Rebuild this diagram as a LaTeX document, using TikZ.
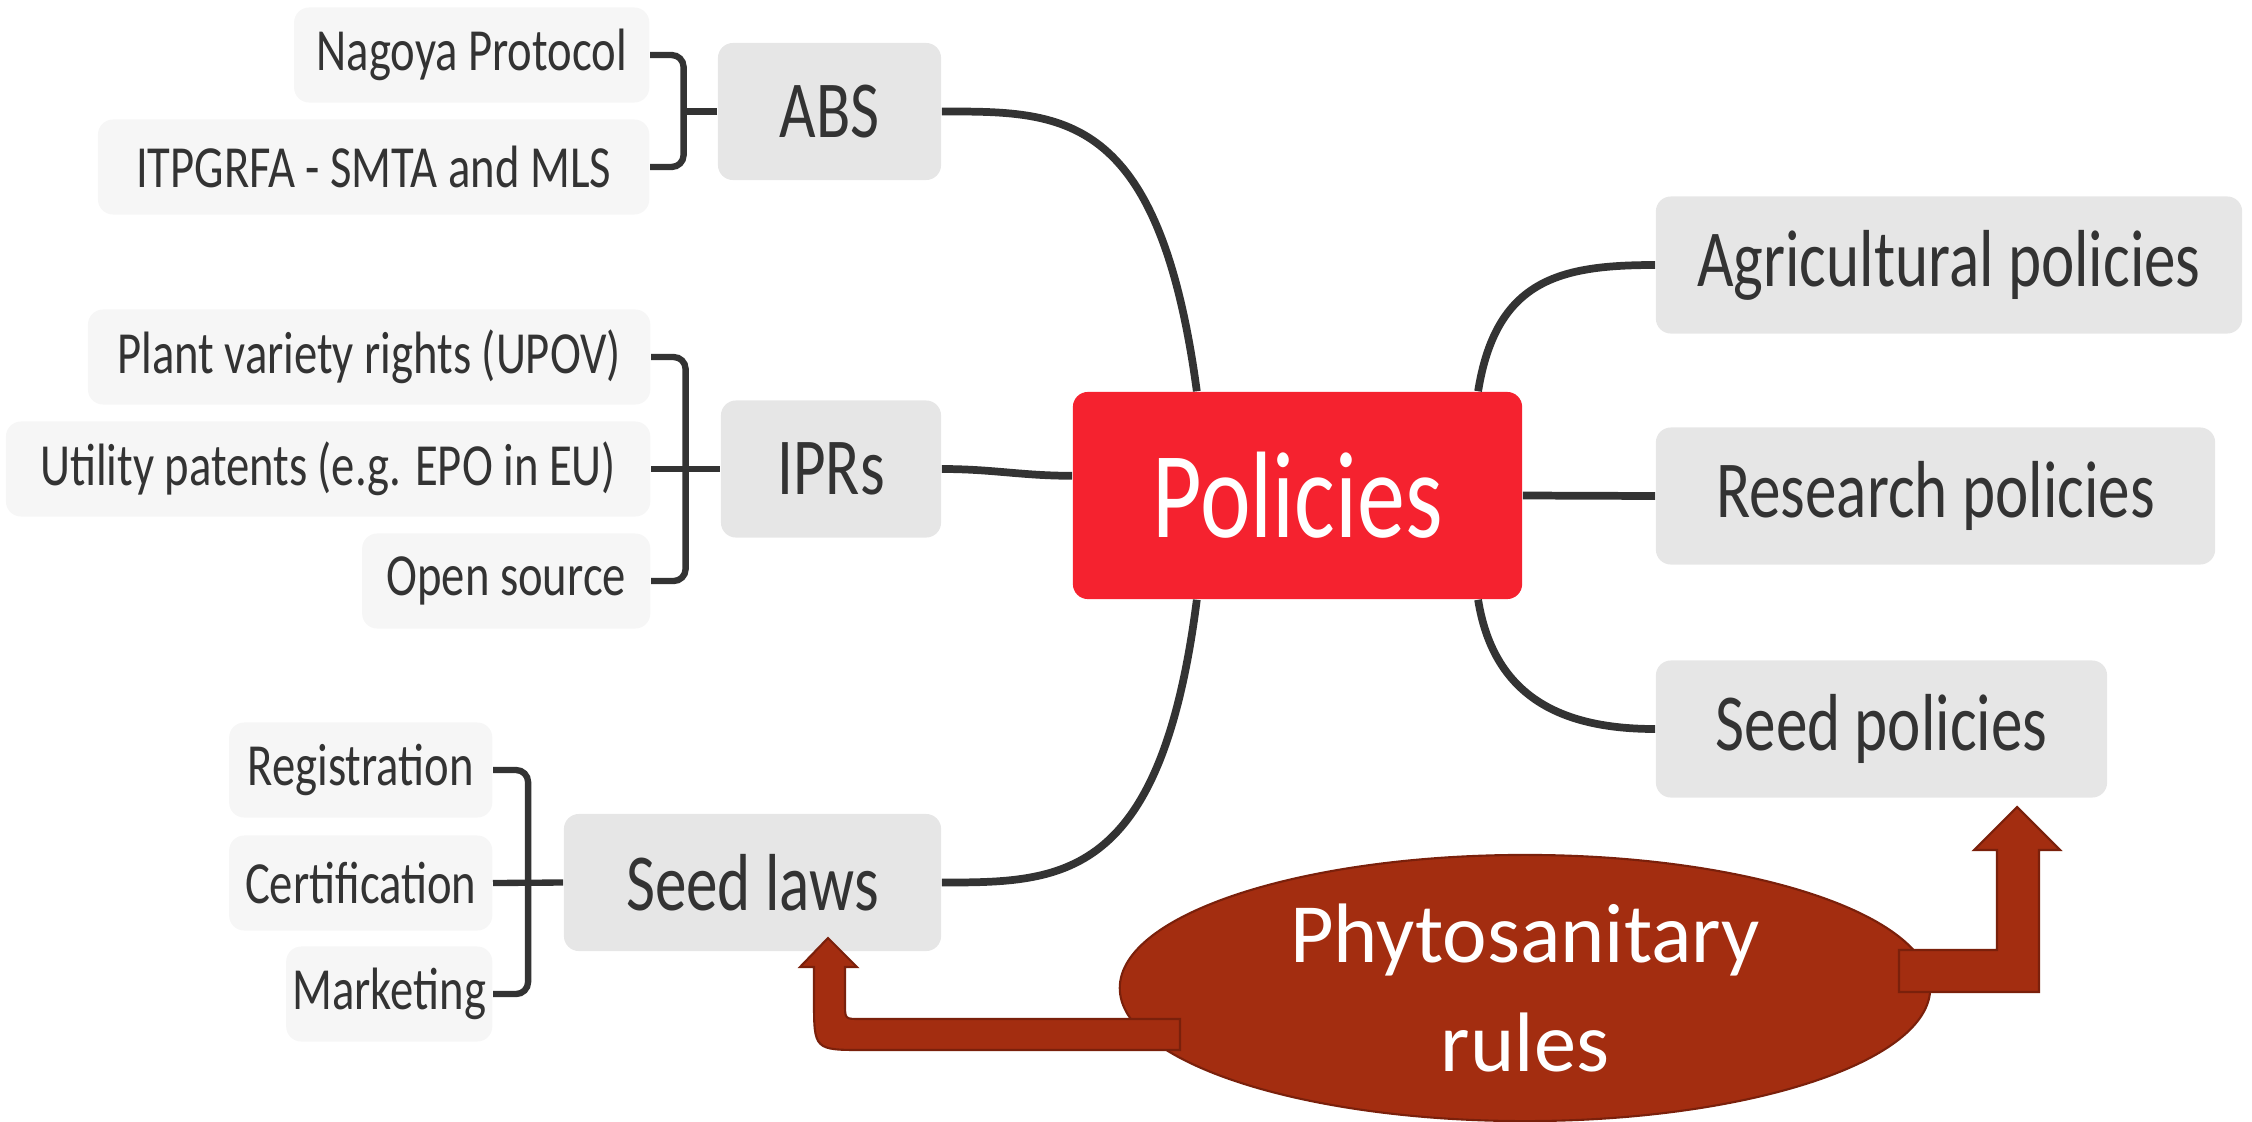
\documentclass[tikz,border=0pt]{standalone}
\usepackage{fontspec}
\newfontfamily\handfont[FakeStretch=0.78]{Carlito}
\newfontfamily\slidefont{Carlito}
\usetikzlibrary{shapes.geometric,calc}

\definecolor{leafgray}{HTML}{F6F6F6}
\definecolor{topicgray}{HTML}{E6E6E6}
\definecolor{inkgray}{HTML}{333333}
\definecolor{rootred}{HTML}{F5222F}
\definecolor{phyred}{HTML}{A32D10}
\definecolor{phydark}{HTML}{7A200B}

\tikzset{
  leaf/.style={fill=leafgray, rounded corners=0.15cm, minimum height=0.95cm, inner xsep=0.05cm,
    text=inkgray, anchor=east, font=\handfont\fontsize{17}{20}\selectfont},
  topic/.style={fill=topicgray, rounded corners=0.15cm, minimum height=1.37cm,
    text=inkgray, font=\handfont\fontsize{23}{26}\selectfont},
  branch/.style={draw=inkgray, line width=2.2pt},
  bracket/.style={draw=inkgray, line width=1.8pt, rounded corners=0.12cm},
  phyarrow/.style={fill=phyred, draw=phydark, line width=0.6pt},
}

\begin{document}
\begin{tikzpicture}[x=0.01cm, y=-0.01cm]
  \useasboundingbox (0,0) rectangle (2252,1121);

  % central topic
  \node[fill=rootred, rounded corners=0.15cm, minimum width=4.49cm, minimum height=2.07cm,
    text=white, font=\handfont\fontsize{35}{40}\selectfont] (policies) at (1297.5,495.5) {Policies};

  % main topics
  \node[topic, minimum width=2.23cm] (abs) at (829.5,111.5) {ABS};
  \node[topic, minimum width=2.20cm] (iprs) at (831,469) {IPRs};
  \node[topic, minimum width=3.77cm] (seedlaws) at (752.5,882.5) {Seed laws};
  \node[topic, minimum width=5.86cm] (agri) at (1949,265) {Agricultural policies};
  \node[topic, minimum width=5.59cm] (research) at (1935.5,496) {Research policies};
  \node[topic, minimum width=4.51cm] (seedpol) at (1881.5,729) {Seed policies};

  % subtopics
  \node[leaf, minimum width=3.55cm] (nagoya) at (650,55) {Nagoya Protocol};
  \node[leaf, minimum width=5.51cm] (itpgrfa) at (650,167) {ITPGRFA - SMTA and MLS};
  \node[leaf, minimum width=5.62cm] (upov) at (651,357) {Plant variety rights (UPOV)};
  \node[leaf, minimum width=6.44cm] (patents) at (651,469) {Utility patents (e.g. EPO in EU)};
  \node[leaf, minimum width=2.88cm] (opensrc) at (651,581) {Open source};
  \node[leaf, minimum width=2.63cm] (registr) at (493,770) {Registration};
  \node[leaf, minimum width=2.63cm] (certif) at (493,883) {Certification};
  \node[leaf, minimum width=2.06cm] (market) at (493,994) {Marketing};

  % branches
  \draw[branch] (policies.134) .. controls +(-38,-282) and +(120,0) .. (abs.east);
  \draw[branch] (policies.175) to[out=180,in=0] (iprs.east);
  \draw[branch] (policies.-134) .. controls +(-36,282) and +(120,0) .. (seedlaws.east);
  \draw[branch] (policies.30) .. controls +(18,-112) and +(-95,0) .. (agri.west);
  \draw[branch] (policies.east) -- (research.west);
  \draw[branch] (policies.-30) .. controls +(16,100) and +(-90,0) .. (seedpol.west);

  % brackets
  \coordinate (absspine) at ($(nagoya.east)!.5!(abs.west)$);
  \draw[bracket] (nagoya.east) -| (absspine) |- (itpgrfa.east);
  \draw[bracket] (abs.west) -- (abs.west -| absspine);

  \coordinate (iprspine) at ($(patents.east)!.5!(iprs.west)$);
  \draw[bracket] (upov.east) -| (iprspine) |- (opensrc.east);
  \draw[bracket] (patents.east) -- (iprs.west);

  \coordinate (lawspine) at ($(certif.east)!.5!(seedlaws.west)$);
  \draw[bracket] (registr.east) -| (lawspine) |- (market.east);
  \draw[bracket] (certif.east) -- (seedlaws.west);

  % phytosanitary rules
  \node[ellipse, fill=phyred, draw=phydark, line width=0.6pt, minimum width=8.1cm,
    minimum height=2.66cm, inner sep=0pt, align=center, text=white,
    font=\slidefont\fontsize{24}{31}\selectfont] (phyto) at (1525,988) {Phytosanitary\\rules};

  \filldraw[phyarrow] (1180,1019) -- (860,1019) .. controls (845,1019) .. (845,1004)
    -- (845,967) -- (857,967) -- (828,938) -- (800,967) -- (814,967) -- (814,1000)
    .. controls (814,1050) .. (864,1050) -- (1180,1050) -- cycle;
  \filldraw[phyarrow] (1899,950) -- (1997,950) -- (1997,850) -- (1974,850) -- (2017,807)
    -- (2060,850) -- (2039,850) -- (2039,992) -- (1899,992) -- cycle;
\end{tikzpicture}
\end{document}
